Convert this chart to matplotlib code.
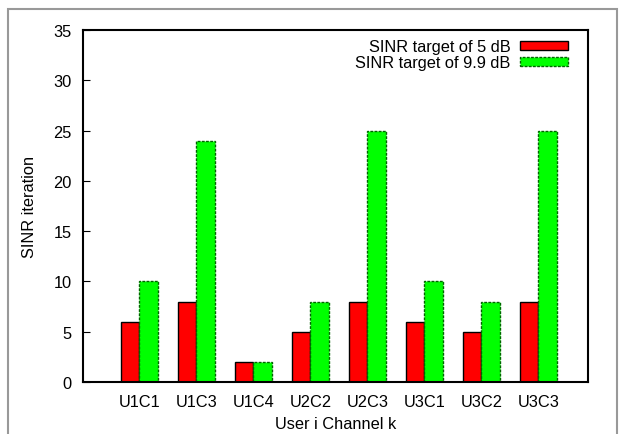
import numpy as np
import matplotlib.pyplot as plt
from matplotlib.patches import Rectangle

labels = ["U1C1", "U1C3", "U1C4", "U2C2", "U2C3", "U3C1", "U3C2", "U3C3"]
sinr_5db = [6, 8, 2, 5, 8, 6, 5, 8]
sinr_99db = [10, 24, 2, 8, 25, 10, 8, 25]

W, H = 619, 435
fig = plt.figure(figsize=(W / 100, H / 100), dpi=100)
plt.rcParams['font.family'] = ['Liberation Sans', 'DejaVu Sans']
fs = 11.8

# grey screenshot frame
fig.patches.append(Rectangle((8 / W, -0.05), (617 - 8) / W, 1 - 10 / H + 0.05,
                             transform=fig.transFigure, fill=False,
                             edgecolor='#999999', linewidth=1.5))

ax = fig.add_axes([83 / W, 1 - 383 / H, (588 - 83) / W, (383 - 31) / H])

x = np.arange(len(labels))
bw = 0.33
ax.bar(x - bw / 2, sinr_5db, bw, color='#ff0000', edgecolor='black',
       linewidth=1, label='SINR target of 5 dB')
ax.bar(x + bw / 2, sinr_99db, bw, color='#00ff00', edgecolor='#006400',
       linewidth=1, linestyle=(0, (2, 1)), label='SINR target of 9.9 dB')

ax.set_xlim(-0.99, 7.87)
ax.set_ylim(0, 35)
ax.set_yticks(range(0, 36, 5))
ax.set_xticks(x)
ax.set_xticklabels(labels)
ax.tick_params(axis='x', length=0, pad=9, labelsize=fs)
ax.tick_params(axis='y', direction='in', length=5, pad=8, labelsize=fs)
for s in ax.spines.values():
    s.set_linewidth(1.5)

ax.set_xlabel('User i Channel k', fontsize=fs, labelpad=5)
ax.set_ylabel('SINR iteration', fontsize=fs, labelpad=12)

ax.legend(loc='upper right', bbox_to_anchor=(0.96, 0.974), frameon=False,
          markerfirst=False, fontsize=fs, handlelength=2.9, handleheight=0.45,
          labelspacing=0.05, borderaxespad=0, borderpad=0, handletextpad=0.6)

fig.savefig('out.png', dpi=100)
